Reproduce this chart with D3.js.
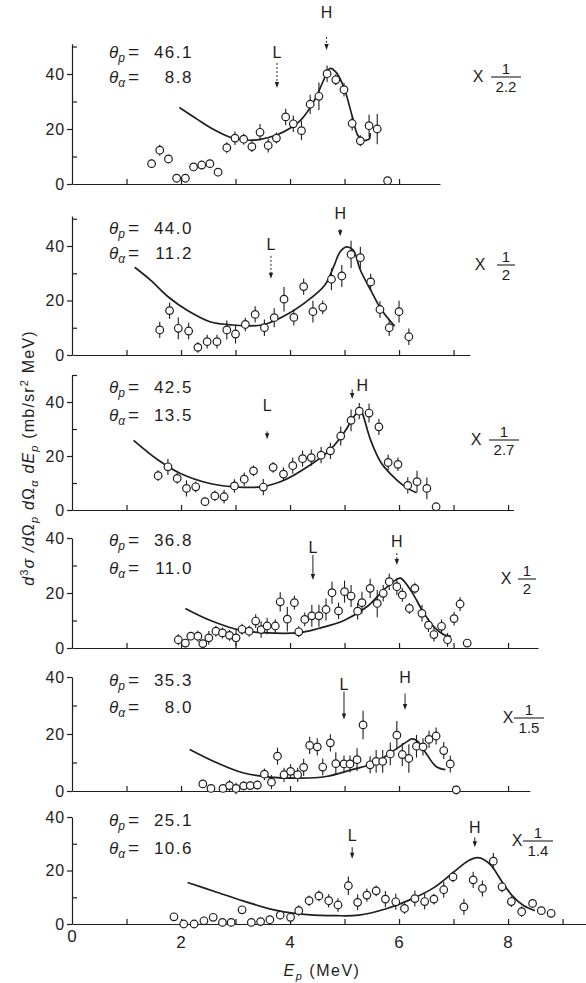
<!DOCTYPE html>
<html>
<head>
<meta charset="utf-8">
<script src="https://cdn.jsdelivr.net/npm/d3@7/dist/d3.min.js"></script>
<style>
  body { margin: 0; background: #fff; }
  text { font-family: "Liberation Sans", Arial, sans-serif; fill: #1e1e1e; }
</style>
</head>
<body>
<div id="chart"></div>
<script>
// ---- data (Ep in MeV, cross section in mb/sr^2 MeV) ----
const thetaP = ["46.1", "44.0", "42.5", "36.8", "35.3", "25.1"];
const thetaA = ["8.8", "11.2", "13.5", "11.0", "8.0", "10.6"];
const scaleDen = ["2.2", "2", "2.7", "2", "1.5", "1.4"];
const xTickLabels = [0, 2, 4, 6, 8];

// [Ep, text value, arrow top value, arrow tip value]
const markL = [[3.76, 45.8, 44.0, 34.9], [3.65, 38.5, 36.4, 28.0], [3.58, 36.7, 29.1, 26.2],
               [4.42, 34.5, 33.8, 24.7], [4.99, 35.6, 34.9, 25.1], [5.14, 30.9, 28.7, 24.4]];
const markH = [[4.67, 60.4, 53.5, 48.7], [4.92, 49.8, 46.2, 43.6], [5.14, 44.0, 44.7, 41.1],
               [5.96, 36.7, 34.5, 30.2], [6.11, 37.8, 34.2, 28.4], [7.39, 34.2, 32.4, 28.7]];

// points: [Ep, value, error]
const points1 = [[1.46,7.4,1.5],[1.61,12.3,2],[1.77,9.1,1.5],[1.92,2.1,1.5],[2.08,2.1,1.5],[2.23,6.2,1],
  [2.38,6.9,1.5],[2.53,7.4,1.5],[2.68,4.3,1.5],[2.84,13.2,2],[2.99,16.7,2.5],[3.15,16.3,2],[3.30,13.6,2],
  [3.45,18.8,3],[3.60,14.0,2.5],[3.75,16.7,2],[3.92,24.4,3],[4.06,21.9,3],[4.21,19.4,3.5],[4.37,29.0,3.5],
  [4.53,31.9,5],[4.68,40.1,3],[4.84,37.9,2],[4.99,34.3,2.5],[5.14,22.0,2.5],[5.29,15.7,2],[5.45,21.2,4],
  [5.60,20.0,5.5],[5.79,1.2,1]];
const points2 = [[1.61,9.2,3],[1.79,16.3,3],[1.95,9.8,4],[2.14,8.8,3],[2.31,2.8,2],[2.48,4.9,2.5],
  [2.66,4.9,2.5],[2.84,9.2,3.5],[3.00,7.7,3.5],[3.18,11.2,2.5],[3.36,14.9,3],[3.53,10.0,3],[3.71,13.7,3.5],
  [3.89,20.5,4.5],[4.07,13.8,3],[4.25,25.1,3],[4.42,15.9,4],[4.60,17.5,2.5],[4.76,27.8,4],[4.95,29.0,4],
  [5.12,36.9,5],[5.29,35.7,4],[5.48,26.8,3],[5.65,16.7,3],[5.82,10.0,3],[6.00,15.9,4],[6.18,6.7,3]];
const points3 = [[1.58,12.7,2],[1.76,16.0,3],[1.93,11.7,2],[2.10,8.0,3],[2.27,8.6,2],[2.44,3.1,1.5],
  [2.62,5.2,2],[2.79,4.9,2.5],[2.98,8.9,2.5],[3.16,11.4,2.5],[3.33,14.5,2],[3.51,8.5,3],[3.69,15.8,2],
  [3.88,13.3,2.5],[4.05,16.4,3],[4.23,19.0,3],[4.39,19.4,3],[4.57,20.3,3],[4.74,21.9,3],[4.93,27.4,3.5],
  [5.12,33.2,4],[5.27,36.6,3],[5.45,35.9,3.5],[5.63,30.8,3],[5.80,17.6,3],[5.98,16.9,2.5],[6.16,9.1,3],
  [6.33,10.5,4],[6.51,8.0,4],[6.68,1.2,1]];
const points4 = [[1.95,3.0,2],[2.08,1.8,1.5],[2.18,4.3,1.5],[2.31,4.3,2],[2.40,1.6,1.5],[2.51,3.7,2.5],
  [2.64,6.1,2],[2.76,5.5,2],[2.89,4.6,2],[3.01,3.7,3],[3.12,6.8,2],[3.25,6.1,2],[3.37,9.8,2.5],[3.47,6.7,3],
  [3.58,8.0,3],[3.73,8.0,2.5],[3.82,16.8,3.5],[3.95,10.5,4.5],[4.08,16.5,2.5],[4.16,5.9,2],[4.27,10.4,2.5],
  [4.40,11.7,4],[4.53,11.7,4],[4.66,14.0,4],[4.77,20.1,4],[4.89,13.5,3],[5.00,20.5,4],[5.12,18.9,4],
  [5.24,13.4,3],[5.32,16.5,4],[5.47,21.7,3.5],[5.60,16.2,5],[5.71,19.9,3],[5.82,24.1,3],[5.96,22.3,3],
  [6.06,19.3,2.5],[6.19,14.4,2],[6.29,21.7,2],[6.42,12.6,3],[6.54,8.3,2.5],[6.64,4.9,2.5],[6.78,7.9,2.5],
  [6.89,3.0,2.5],[7.01,10.7,2.5],[7.12,16.0,2.5],[7.25,1.8,1]];
const points5 = [[2.40,2.5,1],[2.55,0.9,1],[2.77,0.9,1],[2.89,1.9,2],[3.01,0.9,2],[3.15,1.8,1.5],
  [3.27,1.9,1.5],[3.40,2.1,1.5],[3.53,5.9,2],[3.66,3.1,2.5],[3.77,12.2,3],[3.89,5.7,2.5],[4.01,6.9,2.5],
  [4.14,5.7,2.5],[4.25,8.3,3],[4.36,16.0,3],[4.50,15.5,3],[4.60,8.4,3],[4.74,16.9,3],[4.84,9.6,4],
  [4.99,9.5,3],[5.10,9.5,3],[5.23,11.0,4],[5.34,23.2,5],[5.47,9.2,3],[5.58,10.4,4],[5.70,10.4,4],
  [5.84,13.0,4],[5.96,19.6,5],[6.06,12.8,4],[6.18,11.4,5],[6.32,15.7,4],[6.44,15.5,3],[6.55,18.1,3],
  [6.68,19.3,3],[6.82,14.2,3],[6.94,9.5,3],[7.05,0.4,1.5]];
const points6 = [[1.87,2.7,1],[2.05,0,1],[2.24,0,1],[2.42,1.2,1],[2.59,2.5,1.5],[2.76,0.6,1],[2.92,0.6,1.5],
  [3.12,5.3,1],[3.29,0.6,1],[3.46,0.9,1.5],[3.63,1.6,1],[3.82,3.3,1.5],[4.01,2.5,2],[4.16,5.0,2],[4.35,8.7,2],
  [4.53,10.5,2],[4.71,8.7,2.5],[4.88,7.1,2.5],[5.07,14.3,3.5],[5.24,8.1,3],[5.41,10.8,2.5],[5.58,12.4,2],
  [5.75,9.3,3],[5.94,8.3,3],[6.10,5.8,2],[6.29,9.5,3],[6.47,8.4,3],[6.64,9.3,2],[6.82,12.8,3],[6.99,17.6,2],
  [7.19,6.4,3],[7.36,16.5,3],[7.53,13.3,3],[7.73,23.5,3],[7.89,13.9,2],[8.06,8.4,2],[8.25,4.6,2],
  [8.45,7.7,1.5],[8.61,5.0,1],[8.79,4.0,1.5]];

// theory curves: [Ep, value]
const curve1 = [[1.97,27.8],[2.3,23.5],[2.6,19.8],[2.9,17.0],[3.15,16.0],[3.45,16.2],[3.75,17.8],[4.0,20.3],
  [4.21,23.5],[4.45,30.5],[4.6,37],[4.73,42.0],[4.85,40.5],[4.99,35.0],[5.14,24.7],[5.24,17.8],[5.33,16.0],
  [5.45,16.3],[5.47,18.5]];
const curve2 = [[1.15,32.2],[1.44,27.5],[1.78,21.1],[2.12,16.3],[2.53,12.2],[2.95,11.0],[3.48,11.0],[3.89,14.3],
  [4.30,19.6],[4.64,25.7],[4.80,32.4],[4.92,37.9],[5.04,39.7],[5.16,38.5],[5.29,31.2],[5.48,23.8],[5.68,16.5],
  [5.92,10.6]];
const curve3 = [[1.13,25.8],[1.58,18.5],[1.99,13.5],[2.53,9.8],[2.98,8.6],[3.48,8.6],[3.90,11.1],[4.32,16.0],
  [4.73,22.2],[5.0,28.9],[5.17,34.5],[5.29,37.2],[5.33,35.7],[5.48,25.8],[5.68,17.2],[5.96,11.1],[6.16,8.0],
  [6.32,6.4]];
const curve4 = [[2.08,14.4],[2.53,10.1],[3.08,6.5],[3.49,5.6],[4.18,5.6],[4.52,7.1],[5.0,10.1],[5.41,15.0],
  [5.75,21.7],[5.96,25.0],[6.03,25.4],[6.23,20.5],[6.44,13.2],[6.64,7.7],[6.85,4.6],[6.95,4.3]];
const curve5 = [[2.16,14.6],[2.67,9.8],[3.15,6.3],[3.63,4.9],[4.18,4.5],[4.66,5.1],[5.14,7.5],[5.55,9.8],
  [5.89,14.0],[6.16,17.5],[6.23,18.3],[6.34,17.5],[6.51,12.8],[6.68,8.6],[6.85,7.5]];
const curve6 = [[2.12,15.5],[2.67,11.8],[3.22,8.1],[3.77,5.0],[4.32,3.5],[4.85,3.1],[5.26,3.3],[5.75,5.6],
  [6.23,9.3],[6.64,13.6],[6.99,19.2],[7.26,23.5],[7.45,24.8],[7.67,22.3],[7.88,16.1],[8.08,10.5],[8.29,6.8],
  [8.49,5.0]];

const allPoints = [points1, points2, points3, points4, points5, points6];
const allCurves = [curve1, curve2, curve3, curve4, curve5, curve6];

// ---- layout of the six stacked panels ----
const layout = [
  { y0: 184, px40: 110, top: 51, xEnd: 6.75, ticks: 6, thY: [58, 83],   fracX: 506, xX: 478, lineY: 77,  hDx: 0, lDash: true,  hDash: true },
  { y0: 355, px40: 109, top: 51, xEnd: 7.3,  ticks: 7, thY: [234, 259], fracX: 506, xX: 480, lineY: 265, hDx: 0, lDash: true,  hDash: false },
  { y0: 510, px40: 108, top: 50, xEnd: 8.1,  ticks: 8, thY: [393, 421], fracX: 504, xX: 476, lineY: 440, hDx: 10, lDash: false, hDash: false },
  { y0: 648, px40: 110, top: 40, xEnd: 8.55, ticks: 8, thY: [546, 574], fracX: 527, xX: 506, lineY: 579, hDx: 0, lDash: false, hDash: true },
  { y0: 791, px40: 114, top: 40, xEnd: 8.4,  ticks: 8, thY: [686, 713], fracX: 529, xX: 508, lineY: 718, hDx: 0, lDash: false, hDash: false },
  { y0: 924, px40: 107, top: 40, xEnd: 9.43, ticks: 9, thY: [826, 854], fracX: 538, xX: 517, lineY: 841, hDx: 0, lDash: false, hDash: false }
];

const W = 586, H = 983;
const svg = d3.select("#chart").append("svg")
  .attr("width", W)
  .attr("height", H);

const x = d3.scaleLinear().domain([0, 9.43]).range([72, 586]);
const ink = "#1e1e1e";

const line = d3.line()
  .x(d => x(d[0]))
  .curve(d3.curveCatmullRom.alpha(0.5));

layout.forEach((p, i) => {
  const g = svg.append("g");
  const y = d3.scaleLinear().domain([0, 40]).range([p.y0, p.y0 - p.px40]);

  // x axis, ticks pointing up
  const xs = x.copy().domain([0, p.xEnd]).range([x(0), x(p.xEnd)]);
  const xAxis = d3.axisBottom(xs)
    .tickValues(d3.range(1, p.ticks + 1))
    .tickSizeInner(-5)
    .tickSizeOuter(0)
    .tickFormat("");
  g.append("g")
    .attr("transform", `translate(0,${p.y0})`)
    .call(xAxis)
    .call(a => a.selectAll("path, line").attr("stroke", ink).attr("stroke-width", 1.2));

  // y axis: majors outward with labels, minors inward
  const ys = y.copy().domain([0, p.top]).range([p.y0, y(p.top)]);
  g.append("g")
    .attr("transform", `translate(${x(0)},0)`)
    .call(d3.axisLeft(ys).tickValues([0, 20, 40]).tickSizeInner(5).tickSizeOuter(0).tickPadding(2))
    .call(a => a.selectAll("path, line").attr("stroke", ink).attr("stroke-width", 1.2))
    .call(a => a.selectAll("text").style("font-size", "16px").style("letter-spacing", "0.8px").attr("fill", ink));
  g.append("g")
    .attr("transform", `translate(${x(0)},0)`)
    .call(d3.axisRight(ys).tickValues(d3.range(10, p.top + 1, 20)).tickSizeInner(5).tickSizeOuter(0).tickFormat(""))
    .call(a => a.select(".domain").remove())
    .call(a => a.selectAll("line").attr("stroke", ink).attr("stroke-width", 1.2));

  // theory curve
  g.append("path")
    .datum(allCurves[i])
    .attr("fill", "none")
    .attr("stroke", ink)
    .attr("stroke-width", 1.7)
    .attr("d", line.y(d => y(d[1])));

  // data points with error bars
  const pts = g.selectAll(".pt")
    .data(allPoints[i])
    .enter()
    .append("g")
    .attr("class", "pt");
  pts.append("line")
    .attr("x1", d => x(d[0]))
    .attr("x2", d => x(d[0]))
    .attr("y1", d => y(d[1] - d[2]))
    .attr("y2", d => y(d[1] + d[2]))
    .attr("stroke", ink)
    .attr("stroke-width", 1.1);
  pts.append("circle")
    .attr("cx", d => x(d[0]))
    .attr("cy", d => y(d[1]))
    .attr("r", 3.8)
    .attr("fill", "#fff")
    .attr("stroke", ink)
    .attr("stroke-width", 1.2);

  // L and H markers
  [[markL[i], "L", 0, p.lDash], [markH[i], "H", p.hDx, p.hDash]].forEach(([m, lab, dx, dashed]) => {
    g.append("text")
      .attr("x", x(m[0]) + dx)
      .attr("y", y(m[1]))
      .attr("text-anchor", "middle")
      .style("font-size", "16px")
      .text(lab);
    g.append("line")
      .attr("x1", x(m[0]))
      .attr("x2", x(m[0]))
      .attr("y1", y(m[2]))
      .attr("y2", y(m[3]) - 4)
      .attr("stroke", ink)
      .attr("stroke-width", 1)
      .attr("stroke-dasharray", dashed ? "2,2" : null);
    g.append("path")
      .attr("d", `M${x(m[0]) - 2.2},${y(m[3]) - 6}L${x(m[0]) + 2.2},${y(m[3]) - 6}L${x(m[0])},${y(m[3])}Z`)
      .attr("fill", ink);
  });

  // angle labels
  [["p", thetaP[i]], ["α", thetaA[i]]].forEach(([sub, val], k) => {
    const t = g.append("text")
      .attr("x", 109)
      .attr("y", p.thY[k])
      .style("font-size", "17px");
    t.append("tspan").style("font-style", "italic").text("θ");
    t.append("tspan").attr("dy", 4).style("font-size", "12px").style("font-style", "italic").text(sub);
    g.append("text")
      .attr("x", 128)
      .attr("y", p.thY[k])
      .style("font-size", "19px")
      .text("=");
    g.append("text")
      .attr("x", 193)
      .attr("y", p.thY[k])
      .attr("text-anchor", "end")
      .style("font-size", "17px")
      .style("letter-spacing", "1.5px")
      .text(val);
  });

  // scale factor  X 1/n
  g.append("text")
    .attr("x", p.xX)
    .attr("y", p.lineY + 5)
    .attr("text-anchor", "middle")
    .style("font-size", "16px")
    .text("X");
  const dw = scaleDen[i].length > 1 ? 15 : 9;
  g.append("line")
    .attr("x1", p.fracX - dw)
    .attr("x2", p.fracX + dw)
    .attr("y1", p.lineY)
    .attr("y2", p.lineY)
    .attr("stroke", ink)
    .attr("stroke-width", 1.1);
  g.append("text")
    .attr("x", p.fracX)
    .attr("y", p.lineY - 3)
    .attr("text-anchor", "middle")
    .style("font-size", "15px")
    .text("1");
  g.append("text")
    .attr("x", p.fracX)
    .attr("y", p.lineY + 15)
    .attr("text-anchor", "middle")
    .style("font-size", "15px")
    .text(scaleDen[i]);

  // energy tick labels on the bottom panel only
  if (i === layout.length - 1) {
    g.selectAll(".xl")
      .data(xTickLabels)
      .enter()
      .append("text")
      .attr("x", d => x(d))
      .attr("y", d => p.y0 + (d === 0 ? 18 : 24))
      .attr("text-anchor", "middle")
      .style("font-size", "17px")
      .text(d => d);
  }
});

// axis titles
const yt = svg.append("text")
  .attr("transform", "translate(34,458) rotate(-90)")
  .attr("text-anchor", "middle")
  .style("font-size", "16px")
  .style("letter-spacing", "1.2px");
yt.append("tspan").style("font-style", "italic").text("d");
yt.append("tspan").attr("dy", -6).style("font-size", "11px").text("3");
yt.append("tspan").attr("dy", 6).style("font-style", "italic").text("σ /d");
yt.append("tspan").text("Ω");
yt.append("tspan").attr("dy", 4).style("font-size", "11px").style("font-style", "italic").text("p");
yt.append("tspan").attr("dy", -4).style("font-style", "italic").text(" d");
yt.append("tspan").text("Ω");
yt.append("tspan").attr("dy", 4).style("font-size", "11px").style("font-style", "italic").text("α");
yt.append("tspan").attr("dy", -4).style("font-style", "italic").text(" dE");
yt.append("tspan").attr("dy", 4).style("font-size", "11px").style("font-style", "italic").text("p");
yt.append("tspan").attr("dy", -4).text("  (mb/sr");
yt.append("tspan").attr("dy", -6).style("font-size", "11px").text("2");
yt.append("tspan").attr("dy", 6).text(" MeV)");

const xt = svg.append("text")
  .attr("x", 322)
  .attr("y", 976)
  .attr("text-anchor", "middle")
  .style("font-size", "16px")
  .style("letter-spacing", "1.5px");
xt.append("tspan").style("font-style", "italic").text("E");
xt.append("tspan").attr("dy", 4).style("font-size", "11px").style("font-style", "italic").text("p");
xt.append("tspan").attr("dy", -4).text("  (MeV)");
</script>
</body>
</html>
